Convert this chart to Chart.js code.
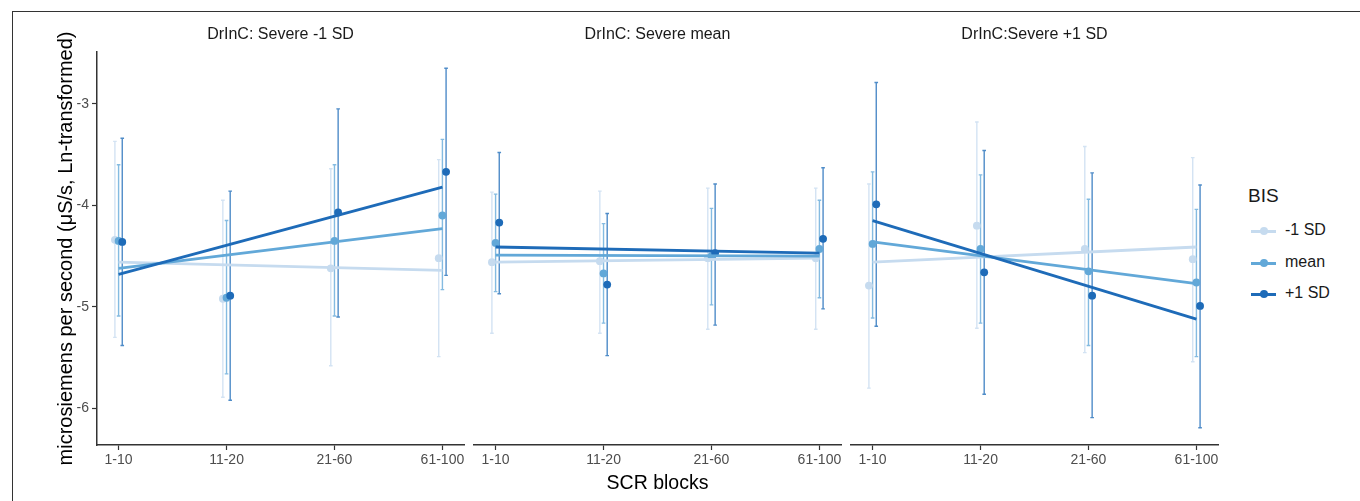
<!DOCTYPE html>
<html><head><meta charset="utf-8">
<script src="https://cdn.jsdelivr.net/npm/chart.js@4.4.1/dist/chart.umd.min.js"></script>
<style>
html,body{margin:0;padding:0;background:#fff;}
#wrap{position:relative;width:1360px;height:501px;overflow:hidden;font-family:"Liberation Sans",Arial,sans-serif;color:#1a1a1a;}
.frame{position:absolute;left:12px;top:11px;width:1400px;height:520px;border-top:1.5px solid #333;border-left:1.5px solid #333;}
canvas{position:absolute;top:0;}
.leg{position:absolute;white-space:nowrap;}
.glyph{position:absolute;width:25px;height:3px;}
.glyph span{position:absolute;left:8.5px;top:-2.5px;width:8px;height:8px;border-radius:50%;}
</style>
</head><body>
<div id="wrap">
  <div class="frame"></div>
  <canvas id="c1" width="470" height="501" style="left:0px"></canvas>
  <canvas id="c2" width="378" height="501" style="left:468px"></canvas>
  <canvas id="c3" width="380" height="501" style="left:845px"></canvas>
  <div id="legend"></div>
</div>
<script>
// ---- categories / labels ----
const blocks = ['1-10', '11-20', '21-60', '61-100'];
const panelTitles = ['DrInC: Severe -1 SD', 'DrInC: Severe mean', 'DrInC:Severe +1 SD'];
const bisLevels = ['-1 SD', 'mean', '+1 SD'];
const yTickValues = [-6, -5, -4, -3];
const yTitle = 'microsiemens per second (\u03bcS/s, Ln-transformed)';
const xTitle = 'SCR blocks';
const legendTitle = 'BIS';

// ---- Panel 1: DrInC Severe -1 SD ----
const p1_m1_est  = [-4.34, -4.92, -4.62, -4.52];
const p1_m1_low  = [-5.30, -5.89, -5.58, -5.49];
const p1_m1_high = [-3.37, -3.95, -3.64, -3.55];
const p1_mn_est  = [-4.35, -4.91, -4.35, -4.10];
const p1_mn_low  = [-5.09, -5.66, -5.09, -4.83];
const p1_mn_high = [-3.60, -4.15, -3.60, -3.35];
const p1_p1_est  = [-4.36, -4.89, -4.07, -3.67];
const p1_p1_low  = [-5.38, -5.92, -5.10, -4.69];
const p1_p1_high = [-3.34, -3.86, -3.05, -2.65];
const p1_fit_m1 = [-4.56, -4.64];
const p1_fit_mn = [-4.62, -4.23];
const p1_fit_p1 = [-4.68, -3.82];

// ---- Panel 2: DrInC Severe mean ----
const p2_m1_est  = [-4.56, -4.55, -4.52, -4.52];
const p2_m1_low  = [-5.26, -5.26, -5.22, -5.22];
const p2_m1_high = [-3.87, -3.86, -3.83, -3.83];
const p2_mn_est  = [-4.37, -4.67, -4.50, -4.43];
const p2_mn_low  = [-4.85, -5.16, -4.98, -4.91];
const p2_mn_high = [-3.89, -4.18, -4.03, -3.95];
const p2_p1_est  = [-4.17, -4.78, -4.47, -4.33];
const p2_p1_low  = [-4.87, -5.48, -5.18, -5.02];
const p2_p1_high = [-3.48, -4.08, -3.79, -3.63];
const p2_fit_m1 = [-4.56, -4.52];
const p2_fit_mn = [-4.49, -4.50];
const p2_fit_p1 = [-4.41, -4.47];

// ---- Panel 3: DrInC Severe +1 SD ----
const p3_m1_est  = [-4.79, -4.20, -4.43, -4.53];
const p3_m1_low  = [-5.80, -5.21, -5.45, -5.54];
const p3_m1_high = [-3.79, -3.18, -3.42, -3.53];
const p3_mn_est  = [-4.38, -4.43, -4.65, -4.76];
const p3_mn_low  = [-5.11, -5.16, -5.38, -5.49];
const p3_mn_high = [-3.67, -3.70, -3.94, -4.04];
const p3_p1_est  = [-3.99, -4.66, -4.89, -4.99];
const p3_p1_low  = [-5.19, -5.86, -6.09, -6.19];
const p3_p1_high = [-2.79, -3.46, -3.68, -3.80];
const p3_fit_m1 = [-4.56, -4.41];
const p3_fit_mn = [-4.36, -4.77];
const p3_fit_p1 = [-4.15, -5.12];

// ---- styling ----
const colors = ['#c6dbef', '#62a8d8', '#1e6bb8'];
const dodge = [-0.034, 0, 0.034];
const FONT = '"Liberation Sans", Arial, sans-serif';

const panels = [
  {est:[p1_m1_est,p1_mn_est,p1_p1_est], low:[p1_m1_low,p1_mn_low,p1_p1_low], high:[p1_m1_high,p1_mn_high,p1_p1_high], fit:[p1_fit_m1,p1_fit_mn,p1_fit_p1]},
  {est:[p2_m1_est,p2_mn_est,p2_p1_est], low:[p2_m1_low,p2_mn_low,p2_p1_low], high:[p2_m1_high,p2_mn_high,p2_p1_high], fit:[p2_fit_m1,p2_fit_mn,p2_fit_p1]},
  {est:[p3_m1_est,p3_mn_est,p3_p1_est], low:[p3_m1_low,p3_mn_low,p3_p1_low], high:[p3_m1_high,p3_mn_high,p3_p1_high], fit:[p3_fit_m1,p3_fit_mn,p3_fit_p1]}
];

const errorBarPlugin = {
  id: 'errbars',
  beforeDatasetsDraw(chart) {
    const pd = chart.options.plugins.errbars.panel;
    const xs = chart.scales.x, ys = chart.scales.y;
    const ctx = chart.ctx;
    ctx.save();
    ctx.lineWidth = 1.4;
    ctx.globalAlpha = 0.78;
    for (let k = 0; k < 3; k++) {
      ctx.strokeStyle = colors[k];
      for (let i = 0; i < blocks.length; i++) {
        const x = xs.getPixelForValue(i + dodge[k]);
        const y1 = ys.getPixelForValue(pd.low[k][i]);
        const y2 = ys.getPixelForValue(pd.high[k][i]);
        ctx.beginPath();
        ctx.moveTo(x, y1); ctx.lineTo(x, y2);
        ctx.moveTo(x - 1.8, y1); ctx.lineTo(x + 1.8, y1);
        ctx.moveTo(x - 1.8, y2); ctx.lineTo(x + 1.8, y2);
        ctx.stroke();
      }
    }
    ctx.restore();
  }
};

function makeChart(id, idx, padL, padR) {
  const pd = panels[idx];
  const datasets = [];
  for (let k = 2; k >= 0; k--) {
    datasets.push({
      label: bisLevels[k] + ' fit', xAxisID: 'x', yAxisID: 'y',
      data: [{x: 0, y: pd.fit[k][0]}, {x: blocks.length - 1, y: pd.fit[k][1]}],
      borderColor: colors[k], borderWidth: 2.8, pointRadius: 0, showLine: true,
      order: 2 - k
    });
  }
  for (let k = 2; k >= 0; k--) {
    datasets.push({
      label: bisLevels[k], xAxisID: 'x', yAxisID: 'y',
      data: blocks.map((b, i) => ({x: i + dodge[k], y: pd.est[k][i]})),
      showLine: false, pointRadius: 3.9, pointBorderWidth: 0,
      pointBackgroundColor: colors[k], borderColor: colors[k],
      order: 5 - k
    });
  }
  return new Chart(document.getElementById(id), {
    type: 'line',
    data: {datasets},
    plugins: [errorBarPlugin],
    options: {
      responsive: false, animation: false, devicePixelRatio: 1,
      layout: {padding: {left: padL, right: padR, top: 0, bottom: 0}},
      plugins: {
        legend: {display: false}, tooltip: {enabled: false}, title: {display: false},
        errbars: {panel: pd}
      },
      scales: {
        x: {
          type: 'linear', position: 'bottom', min: -0.2, max: 3.2,
          afterBuildTicks(s) { s.ticks = blocks.map((b, i) => ({value: i})); },
          afterFit(s) { s.height = 56; },
          ticks: {callback: v => blocks[v], color: '#4d4d4d', font: {size: 14, family: FONT}, padding: 2, maxRotation: 0, autoSkip: false},
          grid: {drawOnChartArea: false, drawTicks: true, tickLength: 5, tickColor: '#333', tickWidth: 1.2},
          border: {display: true, color: '#333', width: 1.5},
          title: {display: idx === 1, text: xTitle, color: '#000', font: {size: 19.5, family: FONT}, padding: {top: 0, bottom: 5.3}}
        },
        xTop: {
          type: 'linear', position: 'top', min: -0.2, max: 3.2, display: true,
          afterFit(s) { s.height = 52; },
          ticks: {display: false},
          grid: {display: false, drawTicks: false},
          border: {display: false},
          title: {display: true, text: panelTitles[idx], color: '#1a1a1a', font: {size: 16, family: FONT}, padding: {top: 25.4, bottom: 0}}
        },
        y: {
          type: 'linear', min: -6.36, max: -2.49, display: idx === 0,
          afterBuildTicks(s) { s.ticks = yTickValues.map(v => ({value: v})); },
          afterFit(s) { s.width = idx === 0 ? 97 : 0; },
          ticks: {color: '#4d4d4d', font: {size: 14, family: FONT}, padding: 3},
          grid: {drawOnChartArea: false, drawTicks: true, tickLength: 5, tickColor: '#333', tickWidth: 1.2},
          border: {display: true, color: '#333', width: 1.5},
          title: {display: true, text: yTitle, color: '#000', font: {size: 20, family: FONT}, padding: {top: 54, bottom: 0}}
        }
      }
    }
  });
}

makeChart('c1', 0, 0, 6);
makeChart('c2', 1, 6, 5);
makeChart('c3', 2, 6, 7);

// ---- legend (HTML) ----
const leg = document.getElementById('legend');
let html = '<div class="leg" style="left:1248px;top:185px;font-size:19px;">' + legendTitle + '</div>';
const legY = [231, 263, 294];
bisLevels.forEach((lab, k) => {
  html += '<div class="glyph" style="left:1251px;top:' + (legY[k] - 1.5) + 'px;background:' + colors[k] + ';"><span style="background:' + colors[k] + ';"></span></div>';
  html += '<div class="leg" style="left:1285px;top:' + (legY[k] - 10) + 'px;font-size:16px;">' + lab + '</div>';
});
leg.innerHTML = html;
</script>
</body></html>
